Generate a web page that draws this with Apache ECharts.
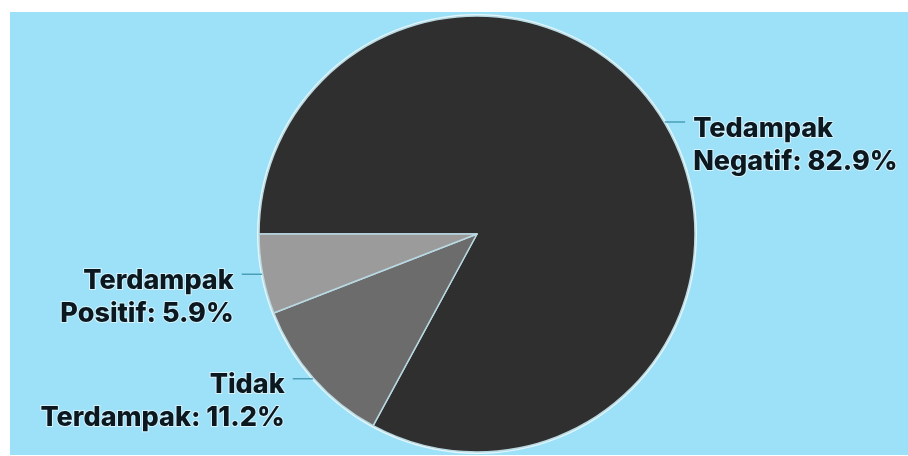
<!DOCTYPE html>
<html>
<head>
<meta charset="utf-8">
<script src="https://cdn.jsdelivr.net/npm/echarts@6/dist/echarts.min.js"></script>
<style>
html,body{margin:0;padding:0;background:#ffffff;}
#wrap{position:absolute;left:10px;top:12px;width:898px;height:443px;background:#9ce1f8;}
#chart{width:898px;height:443px;}
</style>
</head>
<body>
<div id="wrap"><div id="chart"></div></div>
<script>
const categories = ["Tedampak\nNegatif", "Tidak\nTerdampak", "Terdampak\nPositif"];
const values = [82.9, 11.2, 5.9];
const colors = ["#2f2f2f", "#6c6c6c", "#9b9b9b"];

const chart = echarts.init(document.getElementById('chart'));
chart.setOption({
  animation: false,
  series: [
    {
      type: 'pie',
      silent: true,
      center: [467, 222],
      radius: [0, 220],
      z: 1,
      label: {show: false},
      labelLine: {show: false},
      itemStyle: {color: '#e4f7fd'},
      data: [{value: 1, name: ''}]
    },
    {
      type: 'pie',
      center: [467, 222],
      radius: [0, 218],
      startAngle: 180,
      clockwise: true,
      avoidLabelOverlap: false,
      labelLayout: {hideOverlap: false},
      z: 2,
      data: categories.map((c, i) => ({name: c, value: values[i], itemStyle: {color: colors[i]}})),
      itemStyle: {borderColor: '#b9d9e2', borderWidth: 1.5},
      label: {
        show: true,
        position: 'outside',
        formatter: '{p| }\n{b}: {c}%',
        fontFamily: 'Inter',
        fontWeight: 800,
        fontSize: 27,
        lineHeight: 33,
        color: '#0c1820',
        textBorderColor: 'rgba(225,245,252,0.85)',
        textBorderWidth: 2,
        distanceToLabelLine: 8,
        rich: {
          p: {lineHeight: 46, fontSize: 10}
        }
      },
      labelLine: {
        show: true,
        length: 1,
        length2: 20,
        lineStyle: {color: '#4a9fb8', width: 1.5}
      }
    }
  ]
});
</script>
</body>
</html>
